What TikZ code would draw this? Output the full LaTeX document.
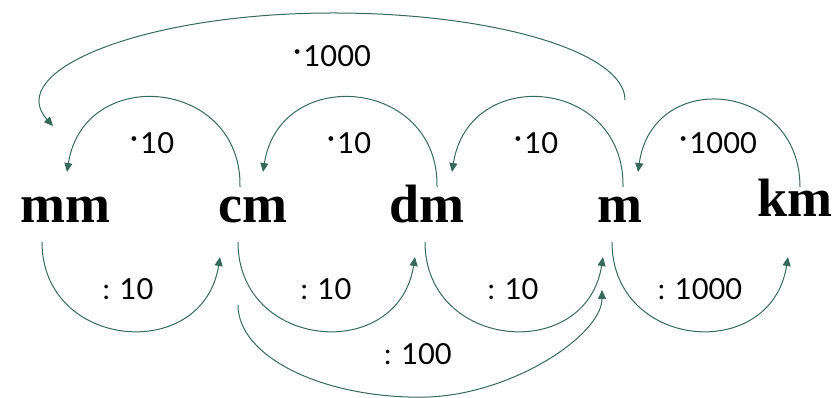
\documentclass[tikz,border=0pt]{standalone}
\usepackage{fontspec}
\setmainfont{Liberation Serif}
\newfontfamily\lblfont{Lato}
\usetikzlibrary{arrows.meta}
\definecolor{arcgreen}{RGB}{55,105,90}
\tikzset{
  unit/.style={anchor=base, inner sep=0pt, font=\fontsize{54}{54}\selectfont\bfseries},
  lbl/.style={anchor=base, inner sep=0pt, font=\lblfont\fontsize{29}{29}\selectfont},
  conv/.style={draw=arcgreen, line width=1pt, -{Triangle[length=9pt,width=8pt]}, arcgreen}
}
\newcommand{\mdot}{\raisebox{0.18em}{\scalebox{1.1}{·}}\kern0.08em}
\begin{document}
\begin{tikzpicture}[x=1pt,y=1pt]
\useasboundingbox (0,0) rectangle (834,398);
% units
\node[unit] (mm) at (65,175) {mm};
\node[unit] (cm) at (253,175) {cm};
\node[unit] (dm) at (427,175) {dm};
\node[unit] (m)  at (620,175) {m};
\node[unit] (km) at (795,181) {km};
% arc end points
\coordinate (cmU) at (240,211);  \coordinate (mmT) at (67,226);
\coordinate (dmU) at (437,211);  \coordinate (cmT) at (263,226);
\coordinate (mU)  at (623,211);  \coordinate (dmT) at (452,226);
\coordinate (kmU) at (800,211);  \coordinate (mT)  at (638,226);
\coordinate (mmL) at (42,156);   \coordinate (cmB) at (220,141);
\coordinate (cmL) at (238,156);  \coordinate (dmB) at (415,141);
\coordinate (dmL) at (425,156);  \coordinate (mB)  at (603,141);
\coordinate (mL)  at (612,156);  \coordinate (kmB) at (788,141);
\coordinate (cmLL) at (238,93);  \coordinate (bigBot) at (420,0.8);
\coordinate (mBB) at (602,108);
\coordinate (mTop) at (625,298); \coordinate (bigTop) at (333,385);
\coordinate (mmTop) at (53,272);
% upper arcs (multiply)
\draw[conv] (cmU) .. controls +(2,109) and +(17,108) .. (mmT);
\draw[conv] (dmU) .. controls +(2,109) and +(17,108) .. (cmT);
\draw[conv] (mU)  .. controls +(2,109) and +(17,108) .. (dmT);
\draw[conv] (kmU) .. controls +(0,105) and +(15,105) .. (mT);
% lower arcs (divide)
\draw[conv] (mmL) .. controls +(0,-108) and +(-17,-107) .. (cmB);
\draw[conv] (cmL) .. controls +(0,-108) and +(-17,-107) .. (dmB);
\draw[conv] (dmL) .. controls +(0,-108) and +(-17,-107) .. (mB);
\draw[conv] (mL)  .. controls +(0,-108) and +(-17,-107) .. (kmB);
% big lower arc
\draw[conv] (cmLL) .. controls +(0,-51) and +(-100,0) .. (bigBot)
  .. controls +(90,0) and +(0,-45) .. (mBB);
% big upper arc
\draw[conv] (mTop) .. controls +(0,48) and +(161,0) .. (bigTop)
  .. controls +(-190,0) and +(-50,55) .. (mmTop);
% labels
\node[lbl] (t1000) at (332,331) {\mdot 1000};
\node[lbl] (u1) at (152,244) {\mdot 10};
\node[lbl] (u2) at (349,244) {\mdot 10};
\node[lbl] (u3) at (536,244) {\mdot 10};
\node[lbl] (u4) at (718,244) {\mdot 1000};
\node[lbl] (d1) at (128,98) {: 10};
\node[lbl] (d2) at (326,98) {: 10};
\node[lbl] (d3) at (513,98) {: 10};
\node[lbl] (d4) at (700,98) {: 1000};
\node[lbl] (d5) at (418,33) {: 100};
\end{tikzpicture}
\end{document}
